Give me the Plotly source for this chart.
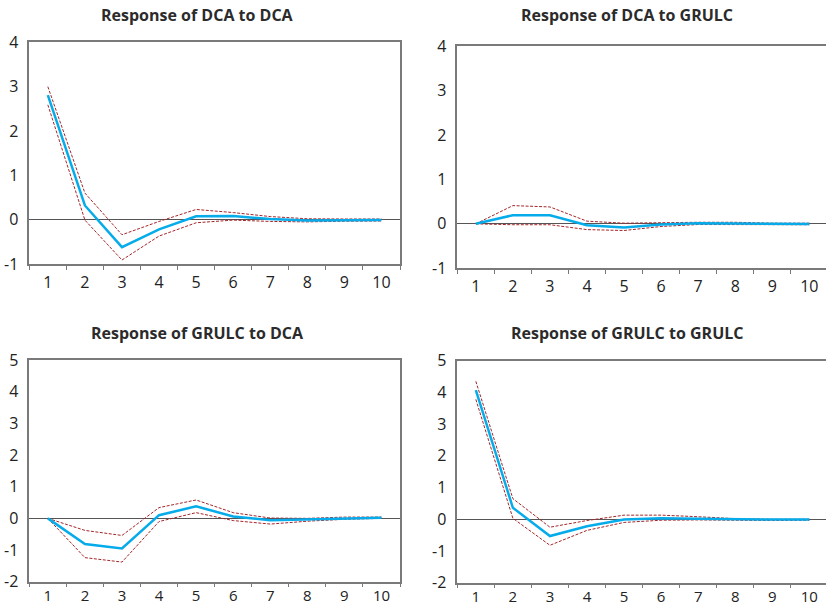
import plotly.graph_objects as go

periods = ["1", "2", "3", "4", "5", "6", "7", "8", "9", "10"]

# Response of DCA to DCA
dca_dca = [2.81, 0.32, -0.62, -0.22, 0.075, 0.08, 0.015, -0.02, -0.015, -0.01]
dca_dca_up = [3.00, 0.60, -0.34, -0.04, 0.23, 0.16, 0.07, 0.02, 0.015, 0.015]
dca_dca_lo = [2.59, -0.01, -0.91, -0.37, -0.07, -0.01, -0.04, -0.05, -0.035, -0.03]

# Response of DCA to GRULC
dca_grulc = [0.0, 0.195, 0.195, -0.03, -0.08, -0.015, 0.015, 0.01, -0.005, -0.005]
dca_grulc_up = [0.0, 0.41, 0.38, 0.06, 0.015, 0.03, 0.035, 0.035, 0.015, 0.015]
dca_grulc_lo = [0.0, -0.02, -0.02, -0.13, -0.15, -0.06, -0.015, -0.015, -0.02, -0.02]

# Response of GRULC to DCA
grulc_dca = [0.0, -0.81, -0.95, 0.10, 0.38, 0.06, -0.06, -0.04, 0.0, 0.02]
grulc_dca_up = [0.0, -0.38, -0.54, 0.34, 0.58, 0.18, 0.01, 0.0, 0.04, 0.04]
grulc_dca_lo = [0.0, -1.24, -1.38, -0.10, 0.18, -0.07, -0.18, -0.09, -0.03, 0.0]

# Response of GRULC to GRULC
grulc_grulc = [4.07, 0.36, -0.53, -0.22, -0.01, 0.03, 0.02, 0.0, -0.01, -0.01]
grulc_grulc_up = [4.35, 0.65, -0.25, -0.04, 0.13, 0.13, 0.08, 0.02, 0.0, 0.0]
grulc_grulc_lo = [3.78, 0.03, -0.82, -0.35, -0.10, -0.03, -0.02, -0.04, -0.04, -0.03]

titles = ["Response of DCA to DCA", "Response of DCA to GRULC",
          "Response of GRULC to DCA", "Response of GRULC to GRULC"]
y_ranges = [[-1, 4], [-1, 4], [-2, 5], [-2, 5]]
y_ticks = [[-1, 0, 1, 2, 3, 4], [-1, 0, 1, 2, 3, 4],
           [-2, -1, 0, 1, 2, 3, 4, 5], [-2, -1, 0, 1, 2, 3, 4, 5]]

panels = [
    (dca_dca, dca_dca_up, dca_dca_lo),
    (dca_grulc, dca_grulc_up, dca_grulc_lo),
    (grulc_dca, grulc_dca_up, grulc_dca_lo),
    (grulc_grulc, grulc_grulc_up, grulc_grulc_lo),
]

W, H = 826, 610
# frames in pixels: left, top, right, bottom
frames = [
    (29.3, 42.3, 400.0, 264.0),
    (457.3, 46.0, 826.0, 268.3),
    (29.3, 360.0, 400.0, 581.7),
    (457.3, 360.7, 826.0, 582.7),
]
title_pos = [(197, 15), (627, 15), (197, 333), (627, 333)]

FONT = "Open Sans"
BLUE = "#06ABEA"
RED = "#A3262A"
FRAME = "#7A7A7A"

fig = go.Figure()
layout = dict(
    width=W, height=H, margin=dict(l=0, r=0, t=0, b=0),
    paper_bgcolor="white", plot_bgcolor="white", showlegend=False,
    font=dict(family=FONT, size=16, color="#222222"),
)
annotations = []
for i, (mid, up, lo) in enumerate(panels):
    n = "" if i == 0 else str(i + 1)
    xa, ya = "x" + n, "y" + n
    for series, color, width, dash in [(up, RED, 1, "3px,1.5px"),
                                       (lo, RED, 1, "3px,1.5px"),
                                       (mid, BLUE, 2.5, "solid")]:
        fig.add_trace(go.Scatter(x=periods, y=series, mode="lines",
                                 line=dict(color=color, width=width, dash=dash),
                                 xaxis=xa, yaxis=ya, hoverinfo="skip"))
    l, t, r, b = frames[i]
    right_panel = i in (1, 3)
    bottom_row = i in (2, 3)
    xr = [-0.5, 9.45] if right_panel else [-0.5, 9.5]
    layout["xaxis" + n] = dict(
        type="category", domain=[l / W, r / W], range=xr, anchor=ya,
        showgrid=False, zeroline=False, showline=True, linecolor=FRAME,
        linewidth=1.5, mirror=True, ticks="outside", tickson="boundaries",
        ticklen=4, tickcolor=FRAME, tickwidth=1, automargin=False,
        ticklabelstandoff=0 if bottom_row else 3,
        tickfont=dict(family=FONT, size=15 if bottom_row else 16, color="#222222"),
    )
    layout["yaxis" + n] = dict(
        domain=[1 - b / H, 1 - t / H], range=y_ranges[i], anchor=xa,
        tickvals=y_ticks[i], ticktext=[str(v) for v in y_ticks[i]],
        showgrid=False, zeroline=True, zerolinecolor="#555555", zerolinewidth=1,
        showline=True, linecolor=FRAME, linewidth=1.5, automargin=False,
        mirror=(not right_panel), ticks="", ticklabelstandoff=6,
        tickfont=dict(family=FONT, size=16, color="#222222"),
    )
    tx, ty = title_pos[i]
    annotations.append(dict(
        text="<b>" + titles[i] + "</b>", x=tx / W, y=1 - ty / H,
        xref="paper", yref="paper", xanchor="center", yanchor="middle",
        showarrow=False, font=dict(family=FONT, size=16, color="#2B2B2B"),
    ))
layout["annotations"] = annotations
fig.update_layout(**layout)
fig.write_html(
    "out.html",
    config={"displayModeBar": False},
    post_script="document.body.style.margin='0';document.body.style.overflow='hidden';",
)
